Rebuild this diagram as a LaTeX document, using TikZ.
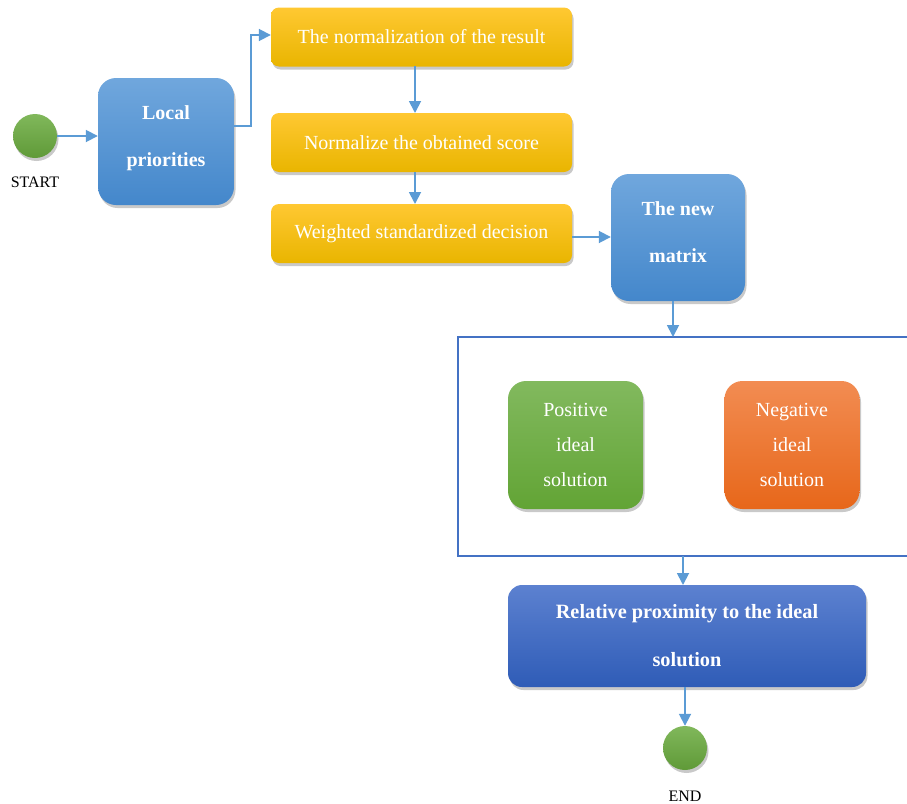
\documentclass[tikz,border=0pt]{standalone}
\usepackage{fontspec}
\setmainfont{Liberation Serif}
\usetikzlibrary{arrows.meta,shadows,positioning}
\definecolor{arrowc}{HTML}{5B9BD5}
\definecolor{framec}{HTML}{4472C4}
\definecolor{blueT}{HTML}{70A7DD}
\definecolor{blueB}{HTML}{4487CB}
\definecolor{yelT}{HTML}{FFC832}
\definecolor{yelB}{HTML}{E9B500}
\definecolor{grnT}{HTML}{82B95E}
\definecolor{grnB}{HTML}{62A435}
\definecolor{orgT}{HTML}{F28C52}
\definecolor{orgB}{HTML}{E7671A}
\definecolor{dbT}{HTML}{5C81D0}
\definecolor{dbB}{HTML}{2F5CB7}
\definecolor{circ}{HTML}{6AAB3E}
\tikzset{
  shad/.style={drop shadow={shadow xshift=1.5pt,shadow yshift=-3pt,opacity=0.3,fill=black!70}},
  box/.style={shad,draw=none,text=white,align=center,inner sep=0pt,rounded corners=#1},
  box/.default=18pt,
  bluebox/.style={box,top color=blueT,bottom color=blueB,minimum width=136pt,minimum height=127pt},
  boldtext/.style={text=white,align=center,inner sep=0pt,font=\bfseries\fontsize{20}{47}\selectfont},
  yelbox/.style={box=8pt,top color=yelT,bottom color=yelB,minimum width=301pt,minimum height=59pt,font=\fontsize{20}{23}\selectfont},
  solbox/.style={box,minimum width=135pt,minimum height=128pt,font=\fontsize{20}{35}\selectfont},
  relbox/.style={box=14pt,top color=dbT,bottom color=dbB,minimum width=358pt,minimum height=102pt,font=\bfseries\fontsize{20.3}{48}\selectfont},
  dot/.style={circle,shad,top color=circ!85!white,bottom color=circ!90!black,minimum size=44pt,inner sep=0pt},
  lbl/.style={font=\fontsize{16}{18}\selectfont},
  conn/.style={draw=arrowc,line width=1.8pt,-{Triangle[length=12pt,width=12pt]}}
}
\begin{document}
\begin{tikzpicture}[x=1pt,y=-1pt]
\useasboundingbox (0,0) rectangle (907,803);
\node[dot] (start) at (35,136) {};
\node[lbl] (startl) at (35,182) {START};
\node[bluebox] (local) at (166,141.5) {};
\node[boldtext] (localt) at (166,138.5) {Local\\priorities};
\node[yelbox] (b1) at (421.5,37) {The normalization of the result};
\node[yelbox] (b2) at (421.5,142.5) {Normalize the obtained score};
\node[yelbox] (b3) at (421.5,233.5) {Weighted standardized decision};
\node[bluebox,minimum width=134pt] (mat) at (678,237.5) {};
\node[boldtext] (matt) at (678,232) {The new\\matrix};
\coordinate (ftop) at (673,337);
\coordinate (fbot) at (683,556);
\draw[framec,line width=1.6pt] (907,337) -- (458,337) -- (458,556) -- (907,556);
\node[solbox,top color=grnT,bottom color=grnB] (pos) at (575.5,445) {Positive\\ideal\\solution};
\node[solbox,top color=orgT,bottom color=orgB] (neg) at (792,445) {Negative\\ideal\\solution};
\node[relbox] (rel) at (687,636) {Relative proximity to the ideal\\solution};
\node[dot] (end) at (685,748) {};
\node[lbl] (endl) at (685,796) {END};
% connectors
\draw[conn] (start.east) -- (start.east -| local.west);
\draw[conn] (local.east |- 0,126) -- (251,126) -- (251,35) -- (b1.west |- 0,35);
\draw[conn] (415,66) -- (415,113);
\draw[conn] (415,172) -- (415,204);
\draw[conn] (b3.east |- 0,237) -- (mat.west |- 0,237);
\draw[conn] (673,301) -- (ftop);
\draw[conn] (fbot) -- (683,585);
\draw[conn] (685,687) -- (end.north);
\end{tikzpicture}
\end{document}
